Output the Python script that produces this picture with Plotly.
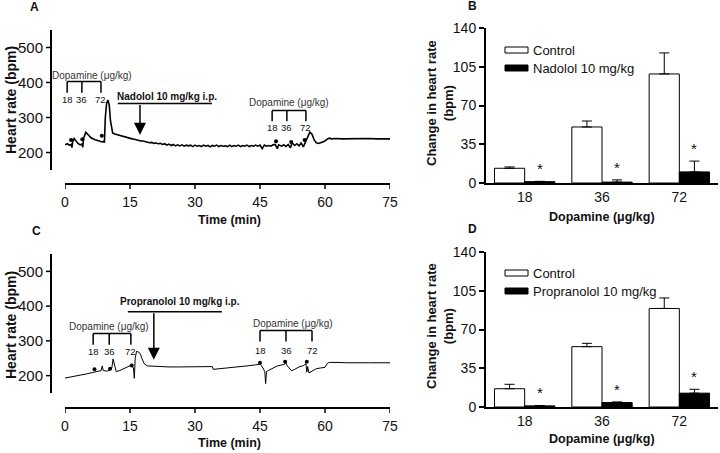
import plotly.graph_objects as go

a_time = [0, 0.5, 1.0, 1.4, 1.6, 1.8, 2.1, 2.5, 3.0, 3.5, 3.9, 4.1, 4.3, 4.8, 5.3, 6.0, 6.8, 7.5, 8.2,
          8.6, 8.9, 9.1, 9.3, 9.6, 9.9, 10.2, 10.5, 10.8,
          11.0, 11.5, 12.0, 12.5, 13.0, 13.5, 14.0, 14.5, 15.0, 15.5, 16.0, 16.5, 17.0, 17.5, 18.0, 18.5,
          19.0, 19.5, 20.0, 20.5, 21.0, 21.5, 22.0, 22.5, 23.0, 23.5, 24.0, 24.5, 25.0, 25.5, 26.0, 26.5,
          27.0, 27.5, 28.0, 28.5, 29.0, 29.5, 30.0, 30.5, 31.0, 31.5, 32.0, 32.5, 33.0, 33.5, 34.0, 34.5,
          35.0, 35.5, 36.0, 36.5, 37.0, 37.5, 38.0, 38.5, 39.0, 39.5, 40.0, 40.5, 41.0, 41.5, 42.0, 42.5,
          43.0, 43.5, 44.0, 44.5, 45.0, 45.5, 46.0, 46.5, 47.0, 47.5, 48.0,
          48.5, 49.0, 49.3, 50.0, 50.5, 51.0, 51.5, 52.0, 52.4, 53.0, 53.5, 54.0, 54.5, 55.0, 55.5,
          56.0, 56.5, 57.0, 57.5, 58.0, 58.5, 59.0, 59.5, 60.0, 60.5, 61.0, 61.5, 62.5, 64, 66, 68, 70,
          72, 74, 75.5]
a_hr = [222, 225, 221, 223, 214, 232, 240, 233, 226, 222, 224, 215, 240, 258, 250, 242, 237, 234, 233,
        230, 232, 228, 300, 340, 350, 336, 290, 262,
        256, 253, 251, 249, 248, 245, 245, 242, 241, 239, 238, 236, 236, 233, 233, 231,
        231, 228, 229, 226, 227, 225, 226, 223, 225, 221, 224, 220, 223, 219, 222, 219,
        222, 218, 221, 219, 221, 217, 221, 218, 220, 217, 221, 218, 220, 216, 220, 218,
        221, 217, 220, 218, 219, 217, 221, 217, 220, 218, 221, 217, 220, 218, 221, 217,
        220, 218, 221, 218, 221, 211, 221, 218, 220, 218, 222,
        223, 211, 222, 218, 222, 217, 223, 213, 228, 220, 225, 219, 227, 216, 230,
        245, 258, 252, 236, 228, 226, 228, 230, 233, 238, 241, 239, 240, 239, 240, 239, 240,
        239, 240, 239]
a_dot_time = [1.4, 4.0, 8.5, 48.7, 52.2, 55.3]
a_dot_hr = [236, 238, 248, 232, 230, 236]

# ---- panel C: heart rate trace, propranolol experiment
c_time = [0, 1, 2, 3, 4, 5, 6, 7, 7.8, 8.3, 8.6, 8.8, 9.5, 10.3, 10.8, 11.1, 11.4, 11.8, 12.5,
          13.5, 14.5, 15.3, 15.8, 16.0, 16.2, 16.5, 17.0, 17.4, 17.8, 18.3, 19, 20, 22, 24, 26, 28,
          30, 32, 34, 34.2, 36, 38, 40, 42, 44, 45.0, 45.4, 45.8, 46.1, 46.3, 46.5, 47, 48, 49,
          50.5, 51, 51.3, 51.8, 52.3, 53, 54, 55, 55.6, 55.8, 56.0, 56.3, 57, 58, 59, 60, 60.6,
          61, 63, 65, 70, 75.5]
c_hr = [193, 195, 197, 199, 202, 205, 208, 212, 213, 214, 228, 215, 213, 215, 222, 248, 232, 212, 214,
        220, 226, 230, 222, 192, 250, 270, 268, 262, 248, 234, 228, 227, 226, 225, 225, 225,
        226, 226, 226, 218, 220, 223, 226, 228, 231, 233, 228, 218, 212, 177, 212, 215, 222, 228,
        232, 236, 228, 222, 214, 218, 225, 229, 234, 210, 226, 208, 212, 220, 222, 224, 236,
        238, 238, 237, 237, 237]
c_dot_time = [6.8, 10.4, 15.4, 45.0, 50.8, 55.8]
c_dot_hr = [218, 220, 229, 237, 240, 240]

# ---- panels B and D: change in heart rate (bpm), mean and upper error
doses = ['18', '36', '72']
b_control = [13.3, 50.6, 98.5]
b_control_err = [1.2, 5.4, 19.0]
b_nadolol = [1.2, 0.8, 10.0]
b_nadolol_err = [0.3, 2.0, 9.8]
d_control = [16.5, 54.5, 89.0]
d_control_err = [4.0, 3.0, 9.5]
d_propranolol = [1.0, 4.0, 12.5]
d_propranolol_err = [0.3, 0.6, 3.5]

time_ticks = [0, 15, 30, 45, 60, 75]
hr_ticks = [200, 300, 400, 500]

W, H = 720, 453
FONT = 'Liberation Sans, Arial, sans-serif'
INK = '#111111'


def px(x):
    return x / W


def py(y):
    return 1 - y / H


fig = go.Figure()

# traces A and C
fig.add_trace(go.Scatter(x=a_time, y=a_hr, mode='lines', line=dict(color='black', width=1.6),
                         xaxis='x', yaxis='y', showlegend=False))
fig.add_trace(go.Scatter(x=a_dot_time, y=a_dot_hr, mode='markers', marker=dict(color='black', size=4),
                         xaxis='x', yaxis='y', showlegend=False))
fig.add_trace(go.Scatter(x=c_time, y=c_hr, mode='lines', line=dict(color='black', width=1),
                         xaxis='x3', yaxis='y3', showlegend=False))
fig.add_trace(go.Scatter(x=c_dot_time, y=c_dot_hr, mode='markers', marker=dict(color='black', size=4),
                         xaxis='x3', yaxis='y3', showlegend=False))


def bars(ctrl, ctrl_err, drug, drug_err, xa, ya):
    fig.add_trace(go.Bar(x=doses, y=ctrl, xaxis=xa, yaxis=ya, showlegend=False,
                         marker=dict(color='white', line=dict(color='black', width=1)),
                         error_y=dict(type='data', symmetric=False, array=ctrl_err,
                                      arrayminus=[0] * 3, color='black', thickness=1, width=5)))
    fig.add_trace(go.Bar(x=doses, y=drug, xaxis=xa, yaxis=ya, showlegend=False,
                         marker=dict(color='black', line=dict(color='black', width=1)),
                         error_y=dict(type='data', symmetric=False, array=drug_err,
                                      arrayminus=[0] * 3, color='black', thickness=1, width=5)))


bars(b_control, b_control_err, b_nadolol, b_nadolol_err, 'x2', 'y2')
bars(d_control, d_control_err, d_propranolol, d_propranolol_err, 'x4', 'y4')

# ---- axes (trace panels use offset axes; their lines/ticks are drawn as shapes below)
clear = 'rgba(0,0,0,0)'
trace_x = dict(range=[0, 75], tickvals=time_ticks, ticks='outside', ticklen=5, tickcolor=clear,
               showline=False, showgrid=False, zeroline=False, anchor='free', automargin=False,
               tickfont=dict(family=FONT, size=14, color=INK))
trace_y = dict(range=[150, 550], tickvals=hr_ticks, ticks='outside', ticklen=5, tickcolor=clear,
               showline=False, showgrid=False, zeroline=False, anchor='free', position=px(51),
               automargin=False, tickfont=dict(family=FONT, size=15, color=INK))
bar_x = dict(range=[-0.5, 2.5], type='category', ticks='', showline=True, linewidth=2,
             linecolor='black', showgrid=False, zeroline=False, automargin=False,
             tickfont=dict(family=FONT, size=14, color=INK))
bar_y = dict(range=[0, 140], tickvals=[0, 35, 70, 105, 140], ticks='outside', ticklen=5,
             tickwidth=1.5, tickcolor='black', showline=True, linewidth=2, linecolor='black',
             showgrid=False, zeroline=False, automargin=False,
             tickfont=dict(family=FONT, size=14, color=INK))

fig.update_layout(
    width=W, height=H, margin=dict(l=0, r=0, t=0, b=0, autoexpand=False),
    paper_bgcolor='white', plot_bgcolor='white',
    barmode='group', bargap=0.22, bargroupgap=0,
    font=dict(family=FONT, color=INK),
    xaxis=dict(trace_x, domain=[px(65), px(390)], position=py(184)),
    yaxis=dict(trace_y, domain=[py(170), py(30)]),
    xaxis3=dict(trace_x, domain=[px(65), px(390)], position=py(408)),
    yaxis3=dict(trace_y, domain=[py(393), py(254)]),
    xaxis2=dict(bar_x, domain=[px(486), px(718)], anchor='y2'),
    yaxis2=dict(bar_y, domain=[py(183), py(28)], anchor='x2'),
    xaxis4=dict(bar_x, domain=[px(486), px(718)], anchor='y4'),
    yaxis4=dict(bar_y, domain=[py(407), py(252)], anchor='x4'),
)

shapes = []
ann = []


def line(xr, yr, x0, y0, x1, y1, w=1.5):
    shapes.append(dict(type='line', xref=xr, yref=yr, x0=x0, y0=y0, x1=x1, y1=y1,
                       line=dict(color='black', width=w)))


def text(xr, yr, x, y, s, size, bold=False, **kw):
    kw.setdefault('xanchor', 'center')
    kw.setdefault('yanchor', 'middle')
    ann.append(dict(xref=xr, yref=yr, x=x, y=y, text=f'<b>{s}</b>' if bold else s,
                    showarrow=False, font=dict(family=FONT, size=size, color=INK), **kw))


# offset axis lines and ticks for panels A and C
for xa, ya, xline_y, ytop, ybot in [('x', 'y', 184, 30, 170), ('x3', 'y3', 408, 254, 393)]:
    line('paper', 'paper', px(65), py(xline_y), px(390), py(xline_y), 2)
    line('paper', 'paper', px(51), py(ytop), px(51), py(ybot), 2)
    for t in time_ticks:
        line(xa, 'paper', t, py(xline_y), t, py(xline_y + 5), 1.5)
    for v in hr_ticks:
        line('paper', ya, px(46), v, px(51), v, 1.5)


def bracket(xr, yr, xs, ytop, ybot, ylab, tx, ty):
    line(xr, yr, xs[0], ytop, xs[-1], ytop)
    for x, lab in zip(xs, doses):
        line(xr, yr, x, ytop, x, ybot)
        text(xr, yr, x, ylab, lab, 9.5)
    text(xr, yr, tx, ty, 'Dopamine (\u03bcg/kg)', 10, font_color='#333')


def drug(xr, yr, label, tx, ty, x0, x1, yline, xarrow, yarrow):
    text(xr, yr, tx, ty, label, 10, bold=True)
    line(xr, yr, x0, yline, x1, yline)
    ann.append(dict(xref=xr, yref=yr, axref=xr, ayref=yr, x=xarrow, y=yarrow, ax=xarrow, ay=yline,
                    text='', showarrow=True, arrowhead=2, arrowsize=1.6, arrowwidth=1.5,
                    arrowcolor='black'))


# panel A annotations
bracket('x', 'y', [0.5, 3.9, 8.3], 403, 371, 351, 6.3, 420)
drug('x', 'y', 'Nadolol 10 mg/kg i.p.', 23.5, 360, 12.2, 33.9, 340, 17.3, 251)
bracket('x', 'y', [47.8, 51.2, 55.6], 320, 289, 272, 51.7, 342)

# panel C annotations
bracket('x3', 'y3', [6.5, 10.2, 15.2], 321, 289, 269, 10.2, 341)
drug('x3', 'y3', 'Propranolol 10 mg/kg i.p.', 26.5, 413, 14.5, 36.2, 384, 20.5, 246)
bracket('x3', 'y3', [45, 51, 57], 330, 298, 272, 52.6, 350)

# stars above drug bars
for xa, ya, vals, errs in [('x2', 'y2', b_nadolol, b_nadolol_err), ('x4', 'y4', d_propranolol, d_propranolol_err)]:
    for i, (v, e) in enumerate(zip(vals, errs)):
        text(xa, ya, i + 0.195, v + e + 2, '*', 15, yanchor='bottom')

# axis titles
for yc in (100, 325):
    text('paper', 'paper', px(11), py(yc), 'Heart rate (bpm)', 14, bold=True, textangle=-90)
for yc in (220, 443):
    text('paper', 'paper', px(229), py(yc), 'Time (min)', 12.5, bold=True)
for yc in (103, 326):
    text('paper', 'paper', px(440), py(yc), 'Change in heart rate<br>(bpm)', 13, bold=True, textangle=-90)
for yc in (217, 439):
    text('paper', 'paper', px(602), py(yc), 'Dopamine (\u03bcg/kg)', 12.5, bold=True)

# panel letters
for lab, x, y in [('A', 34, 7), ('B', 472, 6), ('C', 36, 231), ('D', 472, 229)]:
    text('paper', 'paper', px(x), py(y), lab, 12, bold=True)

# hand-drawn legends for B and D
for top, drug_name in [(47, 'Nadolol 10 mg/kg'), (270, 'Propranolol 10 mg/kg')]:
    for k, (name, fill) in enumerate([('Control', 'white'), (drug_name, 'black')]):
        y0 = top + k * 18
        shapes.append(dict(type='rect', xref='paper', yref='paper', x0=px(505), x1=px(528),
                           y0=py(y0 + 6), y1=py(y0), fillcolor=fill, line=dict(color='black', width=1)))
        text('paper', 'paper', px(531), py(y0 + 3), name, 13, xanchor='left')

fig.update_layout(shapes=shapes, annotations=ann)
# the page's default body margin would push the figure 8px down/right
fig.write_html('out.html', config={'displayModeBar': False},
               post_script="document.body.style.margin='0';")
